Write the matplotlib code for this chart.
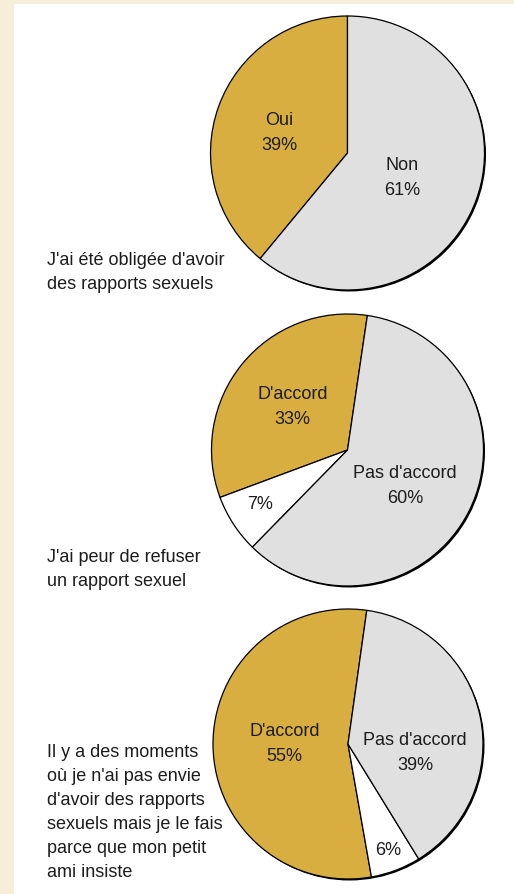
import matplotlib

matplotlib.use("Agg")

import matplotlib.pyplot as plt
import numpy as np
from matplotlib.patches import Circle, Rectangle

W, H, DPI = 514, 894, 100

GOLD = "#D9AE41"
GREY = "#E0E0E0"
WHITE = "#FFFFFF"
BEIGE = "#F7EEDA"
INK = "#1c1c1c"

plt.rcParams["font.family"] = ["Liberation Sans", "DejaVu Sans"]

# data
q1_names = ["Oui", "Non"]
q1_values = [39, 61]
q1_colors = [GOLD, GREY]

q2_names = ["D'accord", "", "Pas d'accord"]
q2_values = [33, 7, 60]
q2_colors = [GOLD, WHITE, GREY]

q3_names = ["D'accord", "", "Pas d'accord"]
q3_values = [55, 6, 39]
q3_colors = [GOLD, WHITE, GREY]

q1_text = ["J'ai été obligée d'avoir", "des rapports sexuels"]
q2_text = ["J'ai peur de refuser", "un rapport sexuel"]
q3_text = [
    "Il y a des moments",
    "où je n'ai pas envie",
    "d'avoir des rapports",
    "sexuels mais je le fais",
    "parce que mon petit",
    "ami insiste",
]

# layout: pie centre / radius in pixels, start angle, label spots (radius fraction, angle shift)
panels = [
    dict(names=q1_names, values=q1_values, colors=q1_colors, text=q1_text,
         cx=347.5, cy=153, r=137, start=90, first_base=265,
         spots=[(0.52, 2), (0.43, -3)]),
    dict(names=q2_names, values=q2_values, colors=q2_colors, text=q2_text,
         cx=347.5, cy=450, r=136, start=81.6, first_base=562,
         spots=[(0.52, 0), (0.75, -2), (0.49, -4)]),
    dict(names=q3_names, values=q3_values, colors=q3_colors, text=q3_text,
         cx=348, cy=744, r=135, start=82, first_base=757,
         spots=[(0.47, -3), (0.83, 0), (0.50, -18)]),
]

FS = 13
LINE = 24  # px between text lines
LINE_PIE = 25

fig = plt.figure(figsize=(W / DPI, H / DPI), dpi=DPI)
fig.patch.set_facecolor(BEIGE)
fig.add_artist(Rectangle((14 / W, 0), 1 - 14 / W, 1 - 4 / H, transform=fig.transFigure,
                         facecolor="white", edgecolor="none", zorder=-1))

for p in panels:
    r, cx, cy = p["r"], p["cx"], p["cy"]
    pad = 1.12
    ax = fig.add_axes([(cx - pad * r) / W, 1 - (cy + pad * r) / H, 2 * pad * r / W, 2 * pad * r / H])
    px = 1.0 / r
    ax.add_patch(Circle((1.5 * px, -1.5 * px), 1.0, facecolor="black", edgecolor="none", zorder=0))
    wedges, _ = ax.pie(p["values"], colors=p["colors"], startangle=p["start"], counterclock=True,
                       wedgeprops=dict(edgecolor="black", linewidth=0.9))
    for w in wedges:
        w.set_zorder(1)
    for w, name, val, (frac, shift) in zip(wedges, p["names"], p["values"], p["spots"]):
        ang = np.deg2rad((w.theta1 + w.theta2) / 2 + shift)
        x, y = frac * np.cos(ang), frac * np.sin(ang)
        if name:
            ax.text(x, y + 6 * px, name, ha="center", va="baseline", fontsize=FS, color=INK)
            ax.text(x, y - (LINE_PIE - 6) * px, f"{val}%", ha="center", va="baseline",
                    fontsize=FS, color=INK)
        else:
            ax.text(x, y - 6.5 * px, f"{val}%", ha="center", va="baseline", fontsize=FS, color=INK)
    ax.set_xlim(-pad, pad)
    ax.set_ylim(-pad, pad)
    ax.axis("off")

    for i, line in enumerate(p["text"]):
        fig.text(47 / W, 1 - (p["first_base"] + i * LINE) / H, line, ha="left", va="baseline",
                 fontsize=FS, color=INK)

fig.savefig("out.png", dpi=DPI, facecolor=fig.get_facecolor())
plt.close(fig)
